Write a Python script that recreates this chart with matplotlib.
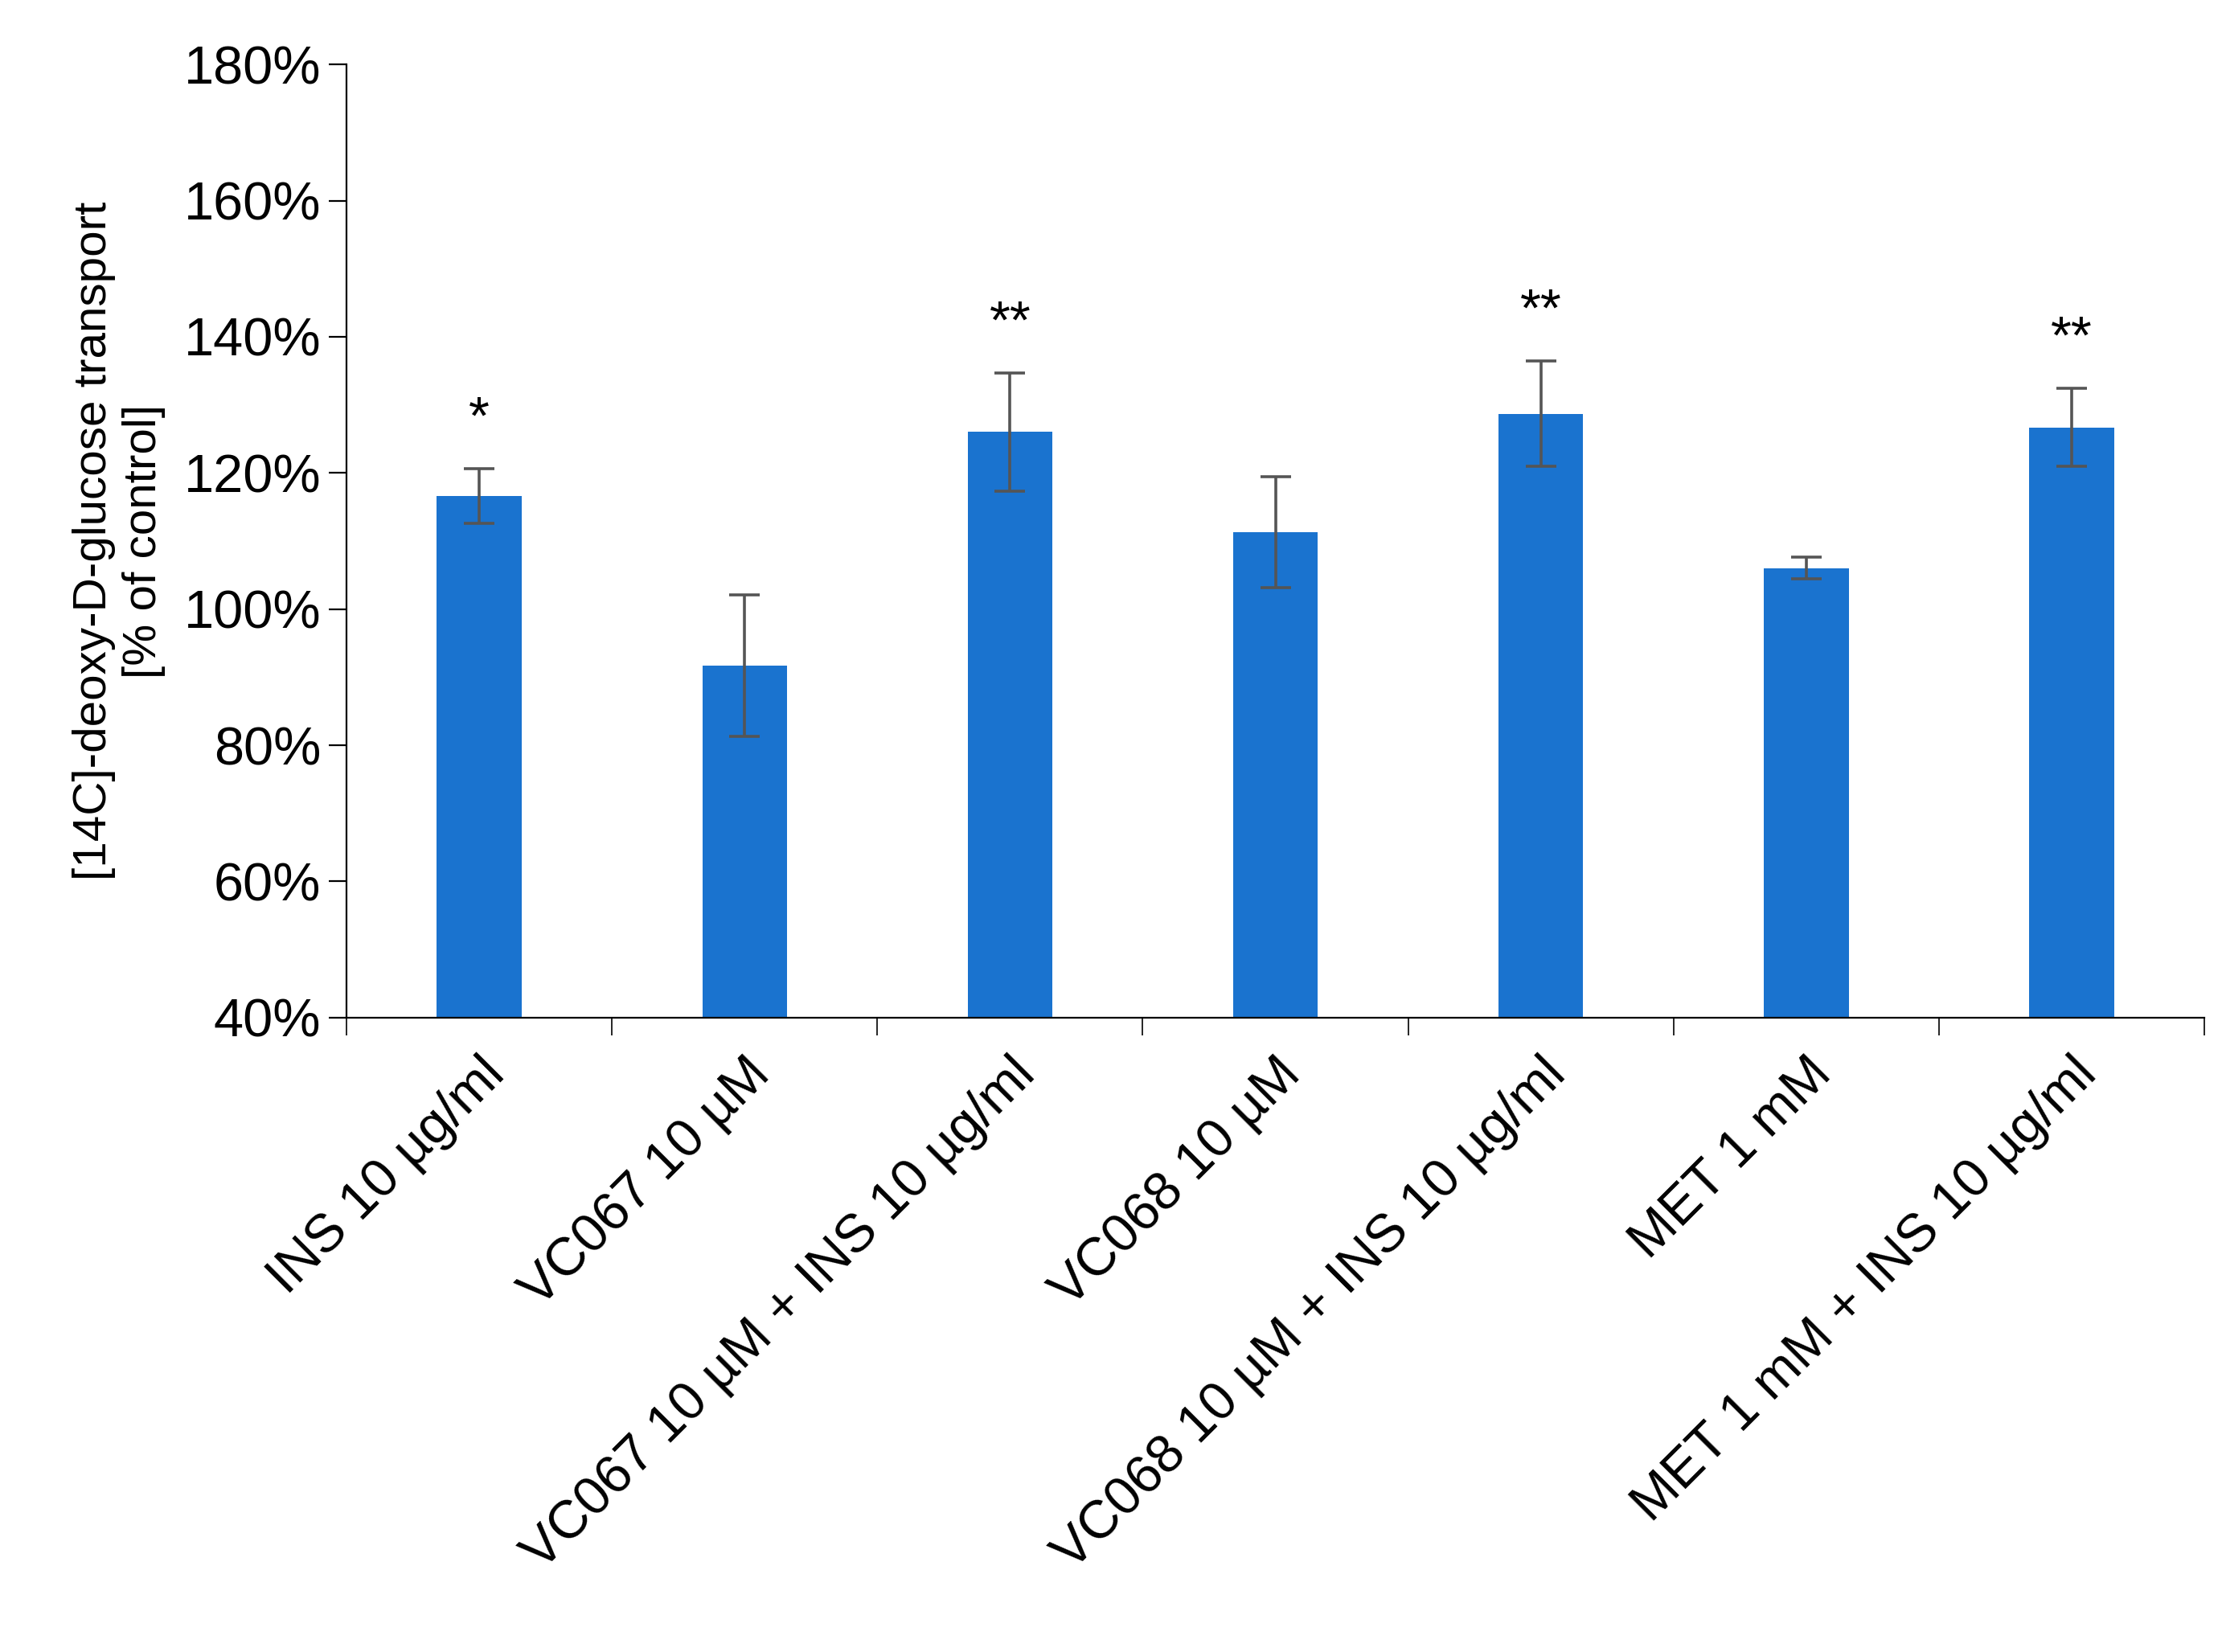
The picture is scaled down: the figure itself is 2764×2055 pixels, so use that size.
import matplotlib
matplotlib.use("Agg")
import matplotlib.pyplot as plt
import numpy as np

categories = ["INS 10 µg/ml", "VC067 10 µM", "VC067 10 µM + INS 10 µg/ml", "VC068 10 µM",
              "VC068 10 µM + INS 10 µg/ml", "MET 1 mM", "MET 1 mM + INS 10 µg/ml"]
values = [116.6, 91.7, 126.0, 111.3, 128.7, 106.0, 126.7]
errors = [4.0, 10.4, 8.7, 8.2, 7.7, 1.6, 5.7]
stars = ["*", "", "**", "", "**", "", "**"]

plt.rcParams['font.family'] = ['Liberation Sans', 'DejaVu Sans']
fig = plt.figure(figsize=(13.82, 10.275), dpi=200)
ax = fig.add_axes([0.156, 0.384, 0.836, 0.577])
x = np.arange(len(categories))
ax.bar(x, values, width=0.32, color="#1a73cf", zorder=2)
ax.errorbar(x, values, yerr=errors, fmt="none", ecolor="#555555", elinewidth=1.3, capsize=7, capthick=1.3, zorder=3)
for xi, v, e, s in zip(x, values, errors, stars):
    if s:
        ax.text(xi, v + e + 3.5, s, ha="center", va="bottom", fontsize=24)
ax.set_ylim(40, 180)
ax.set_xlim(-0.5, len(categories) - 0.5)
ax.set_yticks(np.arange(40, 181, 20))
ax.set_yticklabels([f"{v}%" for v in range(40, 181, 20)], fontsize=24)
ax.set_xticks(x)
ax.set_xticklabels(categories, rotation=45, ha="right", rotation_mode="anchor", fontsize=24)
ax.tick_params(axis="x", length=0, pad=14)
ax.set_xticks(np.arange(-0.5, len(categories), 1), minor=True)
ax.tick_params(axis="x", which="minor", length=8, direction="out")
ax.tick_params(axis="y", length=8, direction="out")
for s in ["top", "right"]:
    ax.spines[s].set_visible(False)
ax.set_ylabel("[14C]-deoxy-D-glucose transport\n[% of control]", fontsize=21, labelpad=8)
fig.savefig("out.png", dpi=200)
